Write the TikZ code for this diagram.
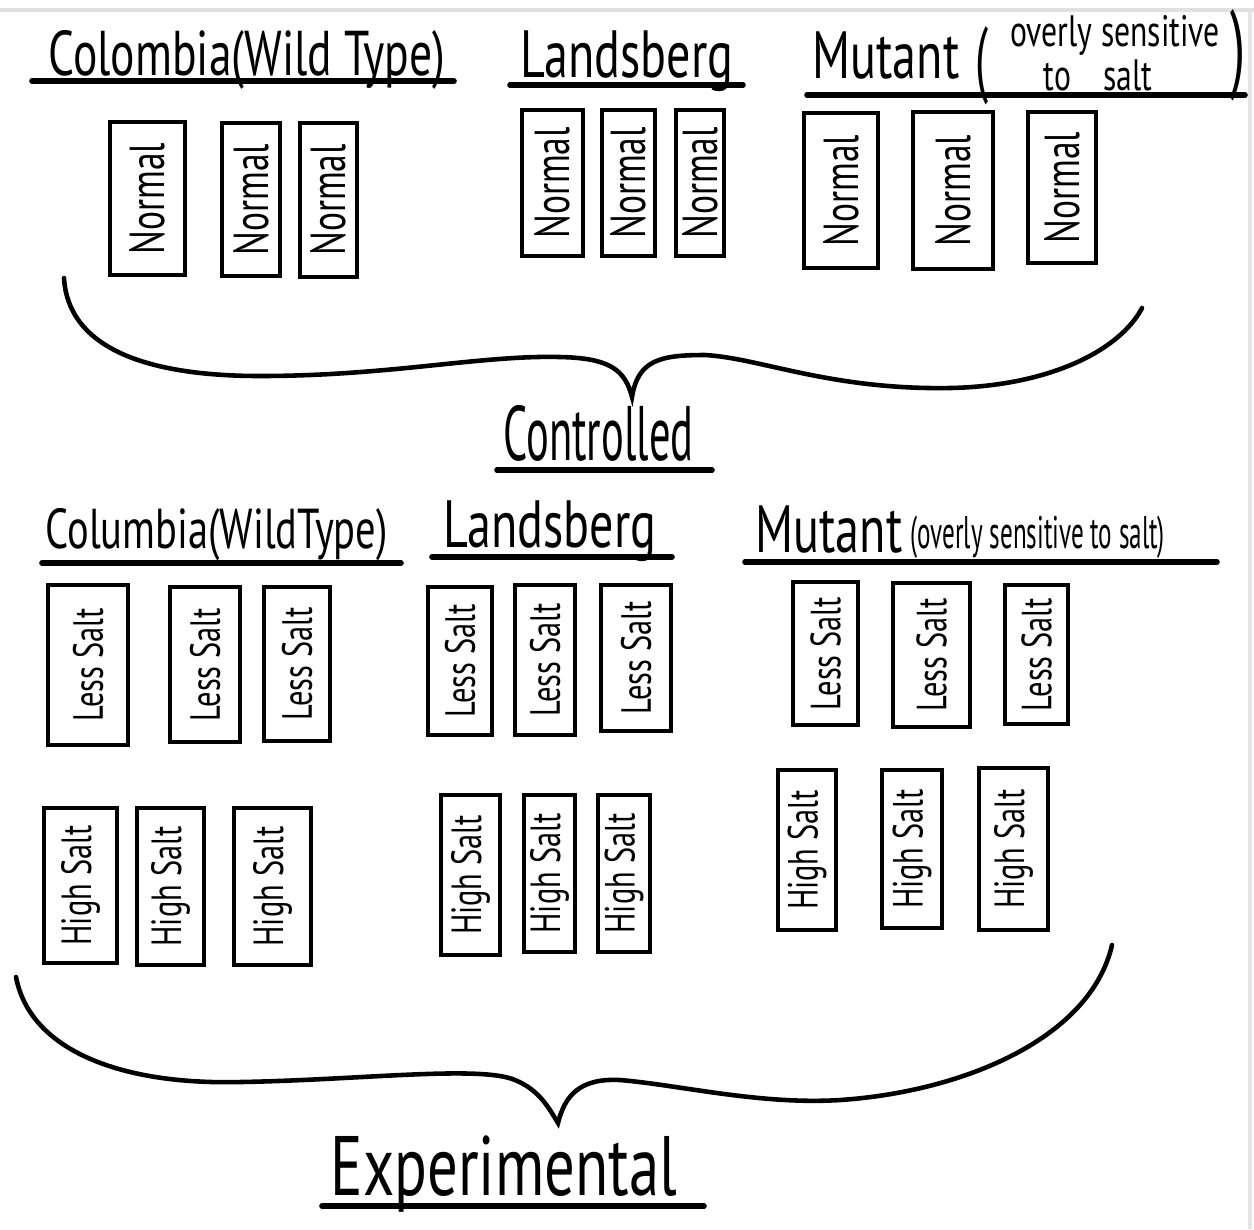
\documentclass[tikz,border=0pt]{standalone}
\usepackage{fontspec}
\usepackage{tikz}
\newfontfamily\hand[FakeStretch=0.72]{PT Sans}
\newfontfamily\handn[FakeStretch=0.55]{PT Sans}

\begin{document}
\begin{tikzpicture}[
  tray/.style={draw,line width=1.2pt,rotate=90,inner sep=0pt,font={\hand\fontsize{14}{16}\selectfont}},
  salt/.style={tray,font={\hand\fontsize{12}{14}\selectfont}},
  hdr/.style={anchor=base west,inner sep=0pt},
  rule/.style={line width=1.6pt,line cap=round},
  brace/.style={line width=1.3pt,line cap=round}]
\useasboundingbox (0,0) rectangle (12.54,-12.29);
\draw[black!12,line width=1.2pt] (0,-0.1)--(12.54,-0.1);
\draw[black!10,line width=1pt] (12.50,-0.1)--(12.50,-12.29);

\node[hdr,font={\hand\fontsize{18}{20}\selectfont}] (colA) at (0.48,-0.75) {Colombia(Wild Type)};
\node[hdr,font={\hand\fontsize{19}{20}\selectfont}] (lanA) at (5.20,-0.77) {Landsberg};
\node[hdr,font={\hand\fontsize{19}{20}\selectfont}] (mutA) at (8.12,-0.78) {Mutant};
\node[inner sep=0pt,font={\handn\fontsize{24}{24}\selectfont}] (mutAl) at (9.82,-0.66) {(};
\node[anchor=north,inner sep=0pt,align=center,font={\hand\fontsize{12.5}{10.5}\selectfont}] (mutAs) at (11.15,-0.15) {overly sensitive\\to\hspace{0.32cm}salt\hspace*{0.34cm}};
\node[inner sep=0pt,font={\handn\fontsize{28}{28}\selectfont}] (mutAr) at (12.38,-0.55) {)};
\draw[rule] (0.32,-0.81)--(4.54,-0.81);
\draw[rule] (5.10,-0.85)--(7.43,-0.85);
\draw[rule] (8.07,-0.95)--(12.45,-0.95);

\node[tray,minimum width=1.53cm,minimum height=0.75cm] (c1) at (1.475,-1.985) {Normal};
\node[tray,minimum width=1.53cm,minimum height=0.58cm] (c2) at (2.51,-1.995) {Normal};
\node[tray,minimum width=1.54cm,minimum height=0.57cm] (c3) at (3.285,-2.00) {Normal};
\node[tray,minimum width=1.46cm,minimum height=0.61cm] (l1) at (5.525,-1.83) {Normal};
\node[tray,minimum width=1.46cm,minimum height=0.53cm] (l2) at (6.285,-1.83) {Normal};
\node[tray,minimum width=1.46cm,minimum height=0.48cm] (l3) at (7.00,-1.83) {Normal};
\node[tray,minimum width=1.55cm,minimum height=0.74cm] (m1) at (8.41,-1.905) {Normal};
\node[tray,minimum width=1.57cm,minimum height=0.80cm] (m2) at (9.53,-1.905) {Normal};
\node[tray,minimum width=1.51cm,minimum height=0.68cm] (m3) at (10.62,-1.875) {Normal};

\draw[brace] (0.64,-2.78) .. controls (0.68,-3.45) and (1.4,-3.76) .. (2.6,-3.76)
  .. controls (3.9,-3.76) and (4.8,-3.55) .. (5.6,-3.57)
  .. controls (6.1,-3.58) and (6.25,-3.7) .. (6.32,-3.97)
  .. controls (6.38,-3.6) and (6.6,-3.55) .. (7.05,-3.55)
  .. controls (7.6,-3.58) and (8.3,-3.9) .. (9.5,-3.88)
  .. controls (10.5,-3.86) and (11.2,-3.5) .. (11.42,-3.08);
\node[hdr,font={\handn\fontsize{22}{22}\selectfont}] (ctrl) at (5.03,-4.60) {Controlled};
\draw[rule] (4.97,-4.70)--(7.12,-4.70);

\node[hdr,font={\hand\fontsize{16}{18}\selectfont}] (colB) at (0.45,-5.48) {Columbia(WildType)};
\node[hdr,font={\hand\fontsize{19}{20}\selectfont}] (lanB) at (4.43,-5.47) {Landsberg};
\node[hdr,font={\hand\fontsize{19}{20}\selectfont}] (mutB) at (7.55,-5.52) {Mutant};
\node[hdr,font={\handn\fontsize{13}{14}\selectfont}] (mutBs) at (9.10,-5.48) {(overly sensitive to salt)};
\draw[rule] (0.42,-5.63)--(4.01,-5.63);
\draw[rule] (4.32,-5.57)--(6.72,-5.57);
\draw[rule] (7.45,-5.62)--(12.17,-5.62);

\node[salt,minimum width=1.60cm,minimum height=0.80cm] (cl1) at (0.88,-6.65) {Less Salt};
\node[salt,minimum width=1.55cm,minimum height=0.70cm] (cl2) at (2.05,-6.645) {Less Salt};
\node[salt,minimum width=1.54cm,minimum height=0.66cm] (cl3) at (2.97,-6.64) {Less Salt};
\node[salt,minimum width=1.48cm,minimum height=0.64cm] (ll1) at (4.60,-6.61) {Less Salt};
\node[salt,minimum width=1.50cm,minimum height=0.60cm] (ll2) at (5.45,-6.60) {Less Salt};
\node[salt,minimum width=1.46cm,minimum height=0.70cm] (ll3) at (6.36,-6.58) {Less Salt};
\node[salt,minimum width=1.43cm,minimum height=0.65cm] (ml1) at (8.255,-6.535) {Less Salt};
\node[salt,minimum width=1.44cm,minimum height=0.77cm] (ml2) at (9.315,-6.55) {Less Salt};
\node[salt,minimum width=1.39cm,minimum height=0.63cm] (ml3) at (10.365,-6.545) {Less Salt};

\node[salt,minimum width=1.55cm,minimum height=0.73cm] (ch1) at (0.805,-8.855) {High Salt};
\node[salt,minimum width=1.57cm,minimum height=0.67cm] (ch2) at (1.705,-8.865) {High Salt};
\node[salt,minimum width=1.57cm,minimum height=0.77cm] (ch3) at (2.725,-8.865) {High Salt};
\node[salt,minimum width=1.60cm,minimum height=0.59cm] (lh1) at (4.705,-8.75) {High Salt};
\node[salt,minimum width=1.57cm,minimum height=0.51cm] (lh2) at (5.495,-8.735) {High Salt};
\node[salt,minimum width=1.57cm,minimum height=0.52cm] (lh3) at (6.24,-8.735) {High Salt};
\node[salt,minimum width=1.60cm,minimum height=0.58cm] (mh1) at (8.07,-8.50) {High Salt};
\node[salt,minimum width=1.58cm,minimum height=0.60cm] (mh2) at (9.12,-8.49) {High Salt};
\node[salt,minimum width=1.62cm,minimum height=0.69cm] (mh3) at (10.135,-8.49) {High Salt};

\draw[brace] (0.16,-9.77) .. controls (0.3,-10.5) and (1.2,-10.85) .. (2.4,-10.82)
  .. controls (3.6,-10.8) and (4.8,-10.65) .. (5.15,-10.8)
  .. controls (5.4,-10.9) and (5.5,-11.1) .. (5.58,-11.23)
  .. controls (5.65,-10.95) and (5.8,-10.78) .. (6.2,-10.8)
  .. controls (6.8,-10.85) and (7.6,-11.05) .. (8.4,-11.0)
  .. controls (9.6,-10.92) and (10.9,-10.4) .. (11.12,-9.45);
\node[hdr,font={\hand\fontsize{24}{24}\selectfont}] (expt) at (3.30,-11.95) {Experimental};
\draw[rule] (3.22,-12.06)--(7.04,-12.06);
\end{tikzpicture}
\end{document}
